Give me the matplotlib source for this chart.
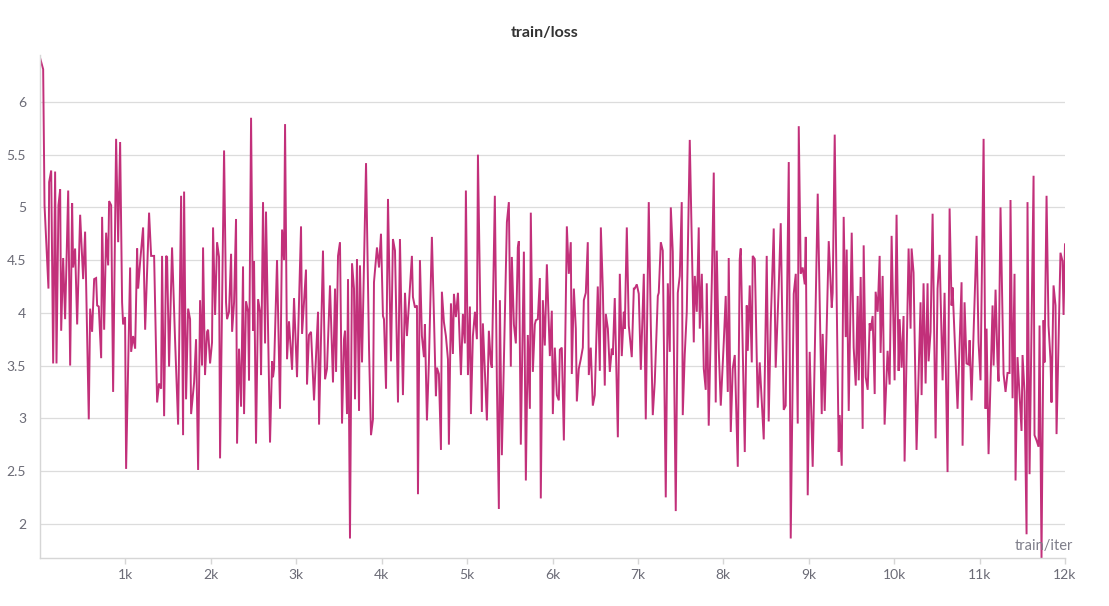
import matplotlib
matplotlib.use("Agg")
import matplotlib.pyplot as plt

plt.rcParams['font.family'] = ['Lato', 'DejaVu Sans']

train_iter = [
    0, 37, 53, 99, 107, 131, 154, 177, 193, 216, 236, 248, 271, 294, 330, 353, 376, 388, 411, 435,
    470, 505, 528, 571, 587, 610, 634, 657, 669, 688, 716, 727, 751, 774, 798, 809, 833, 856, 891, 915,
    938, 961, 973, 996, 1008, 1055, 1067,
    1090, 1114, 1137, 1149, 1172, 1207, 1231, 1277, 1301, 1336, 1371, 1394, 1418, 1429, 1453, 1476, 1488, 1511,
    1546, 1581, 1617, 1652, 1675, 1687, 1710, 1734, 1757, 1769, 1804, 1827, 1851, 1874, 1897, 1909, 1932, 1956,
    1968, 1991, 2014, 2026, 2050, 2073, 2096, 2108, 2155,
    2178, 2190, 2213, 2237, 2249, 2272, 2295, 2307, 2330, 2354, 2377, 2389, 2412, 2436, 2447, 2471, 2494, 2506,
    2529, 2553, 2576, 2588, 2611, 2635, 2646, 2693, 2717, 2728, 2740, 2775, 2810, 2834, 2857, 2869, 2892, 2915,
    2951, 2974, 3009, 3056, 3068, 3114, 3126, 3149, 3173, 3208,
    3255, 3267, 3313, 3337, 3360, 3395, 3430, 3454, 3466, 3489, 3512, 3536, 3559, 3571, 3594, 3606, 3629, 3653,
    3676, 3688, 3711, 3735, 3746, 3770, 3793, 3817, 3852, 3875, 3898, 3910, 3945, 3969, 3992, 4015, 4027, 4051,
    4074, 4109, 4132, 4156, 4191, 4214, 4249, 4273, 4296,
    4354, 4366, 4390, 4413, 4425, 4448, 4471, 4495, 4506, 4530, 4553, 4588, 4612, 4635, 4647, 4670, 4694, 4705,
    4729, 4752, 4776, 4787, 4811, 4834, 4846, 4869, 4893, 4928, 4951, 4974, 4986, 5010, 5033, 5045, 5068, 5092,
    5115, 5127, 5173, 5185, 5232, 5255, 5279, 5290, 5325, 5349, 5372, 5384, 5407,
    5466, 5489, 5512, 5524, 5548, 5571, 5594, 5606, 5629, 5665, 5688, 5711, 5735, 5746, 5770, 5793, 5805, 5828,
    5852, 5863, 5887, 5910, 5934, 5969, 5992, 6004, 6027, 6051, 6074, 6086, 6109, 6133, 6168, 6191, 6214, 6226,
    6250, 6273, 6285, 6308, 6331, 6355, 6367, 6390, 6413, 6425, 6448, 6472, 6495, 6530,
    6554, 6566, 6589, 6612, 6624, 6648, 6671, 6694, 6706, 6729, 6765, 6788, 6811, 6835, 6846, 6870, 6893, 6928,
    6952, 6963, 6987, 7010, 7034, 7069, 7092, 7127, 7151, 7174, 7197, 7233, 7244, 7268, 7291, 7326, 7350, 7373,
    7385, 7408, 7443, 7467, 7490, 7513, 7525, 7548, 7572, 7607,
    7654, 7666, 7689, 7712, 7724, 7748, 7771, 7794, 7806, 7829, 7865, 7888, 7911, 7923, 7946, 7970, 8005, 8028,
    8052, 8063, 8087, 8110, 8134, 8169, 8192, 8204, 8227, 8251, 8274, 8286, 8309, 8333, 8344, 8368, 8403, 8426,
    8450, 8473, 8508, 8531, 8555, 8590, 8613, 8648, 8672, 8707, 8730,
    8766, 8789, 8824, 8848, 8871, 8883, 8906, 8929, 8953, 8965, 8988, 9011, 9046, 9105, 9152, 9163, 9187, 9234,
    9269, 9280, 9304, 9327, 9351, 9362, 9386, 9409, 9433, 9444, 9468, 9503, 9526, 9550, 9573, 9585, 9608, 9631,
    9643, 9667, 9690, 9713, 9725, 9748, 9772, 9783, 9807, 9830,
    9841, 9865, 9888, 9923, 9947, 9970, 10005, 10028, 10052, 10064, 10087, 10110, 10122, 10169, 10192, 10204,
    10227, 10262, 10309, 10321, 10344, 10368, 10391, 10403, 10426, 10450, 10485, 10508, 10532, 10567, 10590,
    10625, 10649, 10672, 10684, 10742, 10789, 10801, 10824, 10847, 10871, 10883, 10906,
    10930, 10965, 10988, 11011, 11047, 11070, 11082, 11105, 11152, 11164, 11187, 11210, 11222, 11245, 11281,
    11304, 11327, 11351, 11362, 11386, 11409, 11421, 11444, 11491, 11503, 11526, 11550, 11561, 11585, 11632,
    11643, 11667, 11690, 11702, 11725, 11749, 11760, 11784, 11807, 11830, 11842, 11866, 11889, 11901, 11947,
    11971, 11983, 12000,
]

train_loss = [
    6.42, 6.31, 5.02, 4.23, 5.24, 5.35, 3.52, 5.34, 3.52, 5.02, 5.17, 3.83, 4.52, 3.94, 5.16, 3.50, 5.04, 4.43, 4.61, 3.89,
    4.93, 4.32, 4.77, 2.99, 4.04, 3.82, 4.32, 4.33, 4.07, 4.06, 3.57, 4.91, 3.84, 4.76, 4.45, 5.06, 5.02, 3.25, 5.65, 4.67,
    5.62, 4.10, 3.89, 3.96, 2.52, 4.43, 3.63,
    3.78, 3.66, 4.61, 4.23, 4.48, 4.81, 3.84, 4.95, 4.54, 4.54, 3.15, 3.33, 3.28, 4.54, 3.02, 4.54, 4.53, 3.49,
    4.62, 3.75, 2.94, 5.11, 2.84, 5.15, 3.18, 4.04, 3.94, 3.04, 3.34, 3.75, 2.51, 4.12, 3.50, 4.62, 3.41, 3.82,
    3.84, 3.52, 3.72, 4.81, 3.98, 4.67, 4.53, 2.62, 5.54,
    4.10, 3.94, 4.01, 4.56, 3.82, 4.10, 4.89, 2.76, 3.66, 3.11, 4.44, 3.04, 4.11, 4.01, 3.36, 5.85, 3.83, 4.49,
    2.76, 4.13, 4.01, 3.41, 5.05, 3.71, 4.96, 2.77, 3.54, 3.39, 3.47, 4.50, 3.09, 4.79, 4.50, 5.79, 3.56, 3.92,
    3.46, 4.14, 3.39, 4.82, 3.80, 4.41, 3.32, 3.79, 3.82, 3.17,
    4.01, 2.94, 4.59, 3.37, 3.47, 4.26, 3.34, 4.23, 3.44, 4.54, 4.67, 2.95, 3.75, 3.83, 3.04, 4.32, 1.86, 4.47,
    4.23, 3.18, 4.51, 3.07, 4.45, 3.53, 4.48, 5.42, 3.66, 2.84, 2.99, 4.29, 4.62, 4.43, 4.75, 3.97, 3.94, 3.28,
    5.08, 3.54, 4.70, 4.59, 3.15, 4.70, 3.22, 4.19, 3.78,
    4.54, 4.15, 4.05, 4.07, 2.28, 4.50, 3.78, 3.58, 3.89, 2.98, 3.53, 4.72, 3.97, 3.21, 3.48, 3.42, 2.70, 4.20,
    3.91, 3.78, 3.56, 2.75, 4.09, 3.61, 4.18, 3.96, 4.19, 3.41, 3.99, 3.71, 5.16, 3.41, 4.06, 3.04, 3.78, 4.01,
    3.75, 5.50, 3.06, 3.90, 2.98, 3.83, 3.52, 3.48, 5.11, 3.34, 2.14, 4.12, 2.65,
    4.86, 5.05, 3.49, 4.53, 3.89, 3.71, 4.62, 4.68, 2.75, 4.58, 2.41, 3.79, 3.09, 4.95, 3.44, 3.89, 3.93, 3.94,
    4.33, 2.24, 4.12, 3.69, 4.46, 3.59, 4.02, 3.04, 3.67, 3.22, 3.17, 3.65, 3.67, 2.79, 4.82, 4.37, 4.67, 3.42,
    4.23, 3.85, 3.16, 3.47, 3.56, 3.67, 4.12, 4.19, 4.67, 3.41, 3.67, 3.12, 3.22, 4.25,
    3.45, 4.81, 4.23, 3.31, 3.99, 3.85, 3.44, 3.66, 3.60, 4.14, 2.82, 4.37, 3.59, 4.01, 3.85, 4.81, 3.88, 3.58,
    4.23, 4.23, 4.27, 4.18, 3.46, 4.37, 2.99, 5.05, 3.88, 3.03, 3.34, 4.16, 4.19, 4.67, 4.59, 2.25, 4.28, 3.63,
    5.00, 4.58, 2.12, 4.19, 4.35, 5.05, 3.03, 3.60, 4.01, 5.64,
    3.72, 4.35, 4.01, 4.81, 3.85, 4.37, 3.47, 3.27, 4.28, 2.93, 4.29, 5.33, 3.15, 4.59, 3.66, 3.12, 3.72, 4.16,
    3.25, 4.52, 2.87, 3.47, 3.60, 2.54, 4.51, 4.61, 3.69, 2.68, 4.07, 3.64, 4.26, 3.53, 4.54, 4.51, 3.10, 3.53,
    3.15, 2.80, 4.54, 2.97, 3.91, 4.80, 3.48, 4.23, 4.85, 3.08, 3.12,
    5.43, 1.86, 4.18, 4.37, 2.95, 5.77, 4.37, 4.43, 4.27, 4.72, 2.27, 3.63, 2.54, 5.13, 3.04, 3.80, 3.07, 4.68,
    4.05, 4.19, 5.69, 4.13, 2.68, 3.03, 2.55, 4.91, 3.77, 4.60, 3.07, 4.76, 3.67, 3.31, 4.16, 3.36, 4.34, 2.90,
    4.64, 3.39, 3.27, 3.90, 3.83, 3.97, 3.23, 4.20, 4.01, 4.54,
    3.62, 4.35, 2.94, 3.64, 3.32, 4.73, 3.36, 4.93, 3.45, 3.94, 3.48, 3.97, 2.59, 4.61, 3.85, 4.61,
    4.38, 2.70, 4.10, 3.22, 4.28, 3.33, 4.28, 3.54, 3.82, 4.94, 2.81, 4.23, 4.55, 3.36, 4.19,
    2.49, 4.99, 4.07, 4.24, 3.09, 4.29, 2.74, 4.10, 3.52, 3.51, 3.74, 3.17,
    3.82, 4.73, 3.72, 3.36, 5.65, 3.09, 3.85, 2.66, 4.07, 3.50, 4.22, 3.53, 3.35, 5.00, 3.42,
    3.25, 3.43, 3.43, 5.07, 3.19, 4.37, 2.41, 3.58, 2.88, 3.60, 3.25, 1.90, 5.05, 2.47, 5.30,
    2.84, 2.79, 2.73, 3.88, 1.67, 3.93, 3.53, 5.11, 3.88, 3.56, 3.15, 4.26, 4.07, 2.85, 4.57,
    4.49, 3.98, 4.65,
]

x_ticks = [1000, 2000, 3000, 4000, 5000, 6000, 7000, 8000, 9000, 10000, 11000, 12000]
x_tick_labels = ['1k', '2k', '3k', '4k', '5k', '6k', '7k', '8k', '9k', '10k', '11k', '12k']
y_ticks = [2, 2.5, 3, 3.5, 4, 4.5, 5, 5.5, 6]
y_tick_labels = ['2', '2.5', '3', '3.5', '4', '4.5', '5', '5.5', '6']

fig = plt.figure(figsize=(11.09, 6.06), dpi=100)
ax = fig.add_axes([40 / 1109, 48 / 606, (1065 - 40) / 1109, (558 - 54.5) / 606])

ax.plot(train_iter, train_loss, color='#c2307a', linewidth=1.4, solid_joinstyle='miter')

ax.set_xlim(0, 12000)
ax.set_ylim(1.675, 6.45)
ax.set_xticks(x_ticks)
ax.set_xticklabels(x_tick_labels)
ax.set_yticks(y_ticks)
ax.set_yticklabels(y_tick_labels)

ax.grid(axis='y', color='#dcdcdc', linewidth=0.9)
ax.grid(axis='x', visible=False)
ax.set_axisbelow(True)

for side in ['top', 'right']:
    ax.spines[side].set_visible(False)
for side in ['left', 'bottom']:
    ax.spines[side].set_color('#d6d6d6')
    ax.spines[side].set_linewidth(1.0)

ax.tick_params(axis='both', labelsize=10, labelcolor='#6b6b76')
ax.tick_params(axis='y', length=0, pad=10)
ax.tick_params(axis='x', length=4, width=1.0, color='#d6d6d6', direction='out', pad=4)

ax.text(1073 / 1109, 1 - 546 / 606, 'train/iter', transform=fig.transFigure, ha='right', va='center',
        fontsize=10.5, color='#7f7f8a')

fig.text(545 / 1109, 1 - 33 / 606, 'train/loss', ha='center', va='center',
         fontsize=11.5, fontweight='bold', color='#333333')

fig.savefig('out.png', dpi=100, facecolor='white')
